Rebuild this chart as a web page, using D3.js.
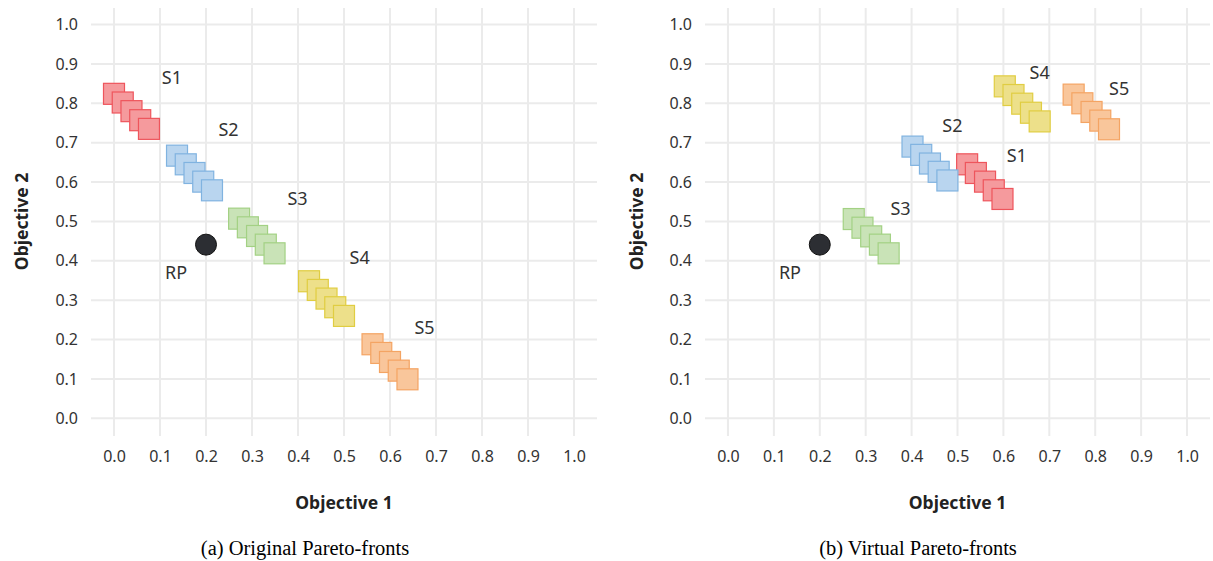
<!DOCTYPE html>
<html>
<head>
<meta charset="utf-8">
<script src="https://cdn.jsdelivr.net/npm/d3@7"></script>
<style>
  body { margin: 0; background: #fff; }
  svg { display: block; }
  .tick text { font-family: "Noto Sans", sans-serif; font-size: 16px; fill: #333; }
</style>
</head>
<body>
<div id="container"></div>
<script>
const width = 1213;
const height = 561;

// tick labels shared by both axes
const tickValues = [0, 0.1, 0.2, 0.3, 0.4, 0.5, 0.6, 0.7, 0.8, 0.9, 1.0];
const seriesNames = ['S1', 'S2', 'S3', 'S4', 'S5'];
const fillColors = ['#f59a9d', '#b9d5ef', '#c9e3b7', '#ede08a', '#f9c69b'];
const strokeColors = ['#ee555c', '#80b3e0', '#a3d184', '#e0cd42', '#f4a463'];

// reference point
const refPoint = [0.2, 0.441];

// (a) original pareto-fronts
const origX = [
    [0.000, 0.019, 0.038, 0.057, 0.076],
    [0.137, 0.156, 0.175, 0.194, 0.213],
    [0.272, 0.291, 0.311, 0.330, 0.349],
    [0.424, 0.443, 0.462, 0.481, 0.500],
    [0.562, 0.581, 0.600, 0.619, 0.638]
];
const origY = [
    [0.824, 0.802, 0.780, 0.757, 0.735],
    [0.667, 0.645, 0.623, 0.601, 0.579],
    [0.507, 0.485, 0.463, 0.441, 0.419],
    [0.348, 0.326, 0.304, 0.282, 0.260],
    [0.188, 0.166, 0.143, 0.121, 0.099]
];
const origLabelX = [0.126, 0.249, 0.399, 0.534, 0.675];
const origLabelY = [0.865, 0.733, 0.558, 0.409, 0.231];

// (b) virtual pareto-fronts
const virtX = [
    [0.521, 0.540, 0.560, 0.579, 0.598],
    [0.402, 0.421, 0.440, 0.459, 0.478],
    [0.274, 0.293, 0.312, 0.331, 0.350],
    [0.603, 0.622, 0.641, 0.660, 0.679],
    [0.753, 0.772, 0.792, 0.811, 0.830]
];
const virtY = [
    [0.645, 0.623, 0.601, 0.579, 0.557],
    [0.690, 0.669, 0.647, 0.626, 0.604],
    [0.506, 0.484, 0.462, 0.441, 0.419],
    [0.843, 0.821, 0.799, 0.776, 0.754],
    [0.822, 0.800, 0.778, 0.756, 0.734]
];
const virtLabelX = [0.629, 0.489, 0.376, 0.679, 0.852];
const virtLabelY = [0.667, 0.744, 0.533, 0.878, 0.838];
const rpLabel = [0.135, 0.371];

const svg = d3.select('#container')
    .append('svg')
    .attr('width', width)
    .attr('height', height);

function drawPanel(left, right, xs, ys, labelX, labelY, caption, titleX) {
    const x = d3.scaleLinear().domain([-0.05, 1.05]).range([left, right]);
    const y = d3.scaleLinear().domain([-0.045, 1.042]).range([436, 8]);
    const g = svg.append('g');

    // grid
    g.selectAll('.vgrid').data(tickValues).enter().append('line')
        .attr('x1', d => x(d)).attr('x2', d => x(d))
        .attr('y1', y.range()[1]).attr('y2', y.range()[0])
        .attr('stroke', '#ebebeb').attr('stroke-width', 2);
    g.selectAll('.hgrid').data(tickValues).enter().append('line')
        .attr('x1', left).attr('x2', right)
        .attr('y1', d => y(d)).attr('y2', d => y(d))
        .attr('stroke', '#ebebeb').attr('stroke-width', 2);

    const xAxis = d3.axisBottom(x).tickValues(tickValues).tickSize(0).tickPadding(15).tickFormat(d3.format('.1f'));
    const yAxis = d3.axisLeft(y).tickValues(tickValues).tickSize(0).tickPadding(13).tickFormat(d3.format('.1f'));
    g.append('g').attr('transform', 'translate(0,436)').call(xAxis).call(a => a.select('.domain').remove());
    g.append('g').attr('transform', 'translate(' + left + ',0)').call(yAxis).call(a => a.select('.domain').remove());

    // axis titles
    g.append('text')
        .attr('x', x(0.5)).attr('y', 509)
        .attr('text-anchor', 'middle')
        .attr('font-family', '"Noto Sans", sans-serif').attr('font-weight', 'bold').attr('font-size', 17.5)
        .attr('fill', '#222')
        .text('Objective 1');
    g.append('text')
        .attr('transform', 'translate(' + (titleX + 6) + ',' + y(0.5) + ') rotate(-90)')
        .attr('text-anchor', 'middle')
        .attr('font-family', '"Noto Sans", sans-serif').attr('font-weight', 'bold').attr('font-size', 17.5)
        .attr('fill', '#222')
        .text('Objective 2');

    // fronts
    const size = 21;
    xs.forEach((row, s) => {
        g.selectAll('.sq' + s).data(row.map((v, i) => [v, ys[s][i]])).enter().append('rect')
            .attr('x', d => x(d[0]) - size / 2)
            .attr('y', d => y(d[1]) - size / 2)
            .attr('width', size).attr('height', size)
            .attr('fill', fillColors[s])
            .attr('stroke', strokeColors[s])
            .attr('stroke-width', 1.2);
    });

    // reference point
    g.append('circle')
        .attr('cx', x(refPoint[0])).attr('cy', y(refPoint[1])).attr('r', 10.5)
        .attr('fill', '#2c2e33').attr('stroke', '#111').attr('stroke-width', 1);

    // labels
    seriesNames.concat(['RP']).forEach((name, i) => {
        const lx = i < 5 ? labelX[i] : rpLabel[0];
        const ly = i < 5 ? labelY[i] : rpLabel[1];
        g.append('text')
            .attr('x', x(lx)).attr('y', y(ly))
            .attr('dy', '0.35em')
            .attr('text-anchor', 'middle')
            .attr('font-family', '"Noto Sans", sans-serif').attr('font-size', 18)
            .attr('fill', '#333')
            .text(name);
    });

    // caption
    svg.append('text')
        .attr('x', caption.x).attr('y', 555)
        .attr('text-anchor', 'middle')
        .attr('font-family', '"Liberation Serif", serif').attr('font-size', 20.5)
        .attr('fill', '#000')
        .text(caption.text);
}

drawPanel(91, 597, origX, origY, origLabelX, origLabelY, {x: 305, text: '(a) Original Pareto-fronts'}, 22);
drawPanel(705, 1210, virtX, virtY, virtLabelX, virtLabelY, {x: 918, text: '(b) Virtual Pareto-fronts'}, 637);
</script>
</body>
</html>
